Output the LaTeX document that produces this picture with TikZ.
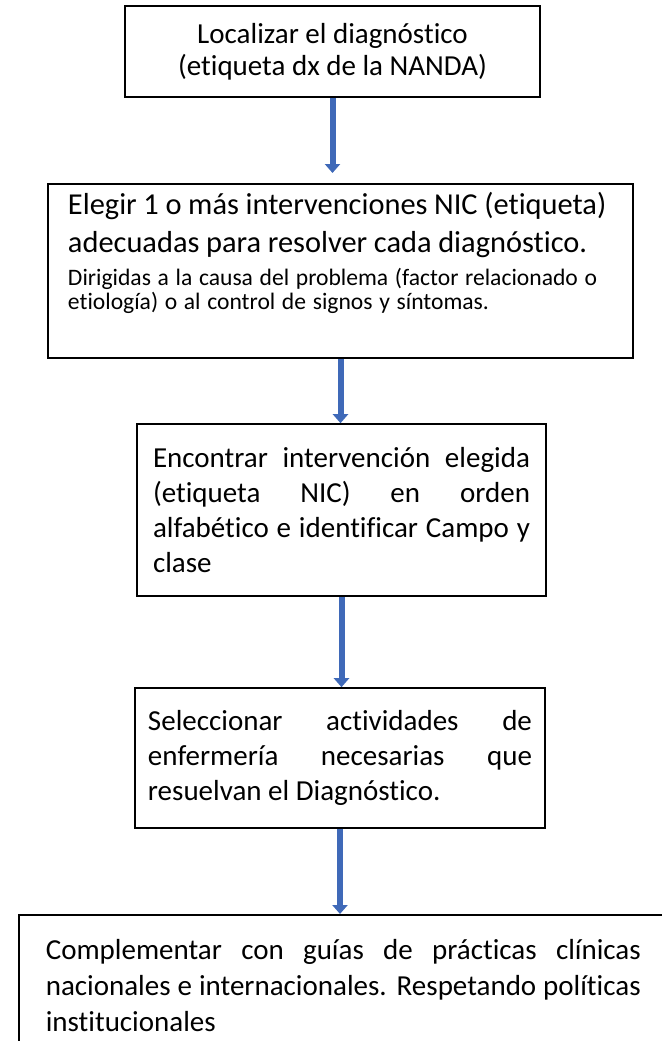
\documentclass[tikz,border=0pt]{standalone}
\usepackage{fontspec}
\setmainfont{Carlito}[Ligatures=NoCommon]
\usepackage{tikz}
\usetikzlibrary{arrows.meta}
\definecolor{flechaazul}{HTML}{3F69B8}
\tikzset{caja/.style={draw=black, line width=0.8pt, inner ysep=0pt}}
\tikzset{flecha/.style={draw=flechaazul, line width=3pt, -{Triangle[width=7.5pt,length=4.5pt]}}}

\begin{document}
\begin{tikzpicture}[x=0.5pt,y=-0.5pt]
\useasboundingbox (0,0) rectangle (661,1041);
\node[caja, minimum width=207.5pt, minimum height=45.5pt, align=center, font=\fontsize{14.5}{16}\selectfont] (localizar) at (332.5,51.5) {Localizar el diagnóstico\\(etiqueta dx de la NANDA)};
\node[caja, anchor=north, text width=272.5pt, inner xsep=10pt, inner ysep=4pt, align=left] (elegir) at (340.5,183) {\fontsize{15.2}{19}\selectfont Elegir 1 o más intervenciones NIC (etiqueta)\\adecuadas para resolver cada diagnóstico.\par\vspace{2pt}\fontsize{11.8}{14.5}\selectfont Dirigidas a la causa del problema (factor relacionado o\\etiología) o al control de signos y síntomas.\rule[-20.5pt]{0pt}{1pt}};
\node[caja, text width=188.5pt, inner xsep=8pt, minimum height=86pt, align=justify, font=\fontsize{14.5}{17.5}\selectfont] (encontrar) at (341.5,510) {Encontrar intervención elegida\linebreak (etiqueta NIC) en orden\linebreak alfabético e identificar Campo y\linebreak clase};
\node[caja, text width=192pt, inner xsep=6.5pt, minimum height=70pt, align=justify, font=\fontsize{14.5}{17.5}\selectfont] (seleccionar) at (340,758) {Seleccionar actividades de\linebreak enfermería necesarias que\linebreak resuelvan el Diagnóstico.};
\node[caja, anchor=north west, text width=297.5pt, inner xsep=13.5pt, inner ysep=12.5pt, align=justify, font=\fontsize{14.5}{17.8}\selectfont] (guias) at (18,914) {Complementar con guías de prácticas clínicas\linebreak nacionales e internacionales. Respetando políticas\linebreak institucionales};
\draw[flecha, shorten >=5pt] (localizar.south) -- (localizar.south |- elegir.north);
\draw[flecha] (elegir.south) -- (elegir.south |- encontrar.north);
\draw[flecha] (encontrar.south) -- (encontrar.south |- seleccionar.north);
\draw[flecha] (seleccionar.south) -- (seleccionar.south |- guias.north);
\end{tikzpicture}
\end{document}
